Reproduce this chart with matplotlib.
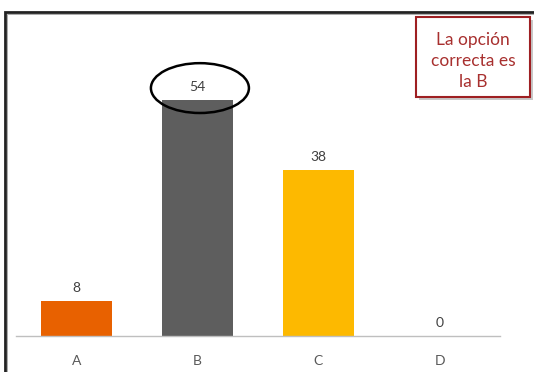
import matplotlib.pyplot as plt
from matplotlib.patches import Ellipse, Rectangle

categories = ["A", "B", "C", "D"]
values = [8, 54, 38, 0]
colors = ["#E86100", "#5E5E5E", "#FDB900", "#FDB900"]
answer_text = "La opción\ncorrecta es\nla B"

plt.rcParams['font.family'] = ['Lato', 'DejaVu Sans']

fig = plt.figure(figsize=(5.34, 3.72), dpi=100)
ax = fig.add_axes([16 / 534, 36 / 372, 484 / 534, 324 / 372])

x = range(len(categories))
ax.bar(x, values, width=0.58, color=colors)
for xi, v in zip(x, values):
    ax.text(xi, v + 1.6, str(v), ha='center', va='bottom', fontsize=10, color='#404040')

ax.set_xlim(-0.5, 3.5)
ax.set_ylim(0, 74.1)
ax.set_xticks(list(x))
ax.set_xticklabels(categories, fontsize=10, color='#595959')
ax.tick_params(axis='x', length=0, pad=14)
ax.set_yticks([])
for s in ['top', 'right', 'left']:
    ax.spines[s].set_visible(False)
ax.spines['bottom'].set_color('#BFBFBF')
ax.spines['bottom'].set_linewidth(1)

# circle around the right answer
ax.add_patch(Ellipse((1.02, 56.7), 0.81, 11.4, fill=False, edgecolor='black', lw=1.8, zorder=5))

# outer frame
fig.patches.append(Rectangle((5 / 534, -0.1), 1.2, (372 - 12) / 372 + 0.1, transform=fig.transFigure,
                             fill=False, edgecolor='#222222', lw=2.0))
fig.patches.append(Rectangle((7 / 534, -0.1), 1.2, (372 - 14) / 372 + 0.1, transform=fig.transFigure,
                             fill=False, edgecolor='#aaaaaa', lw=0.7))

# answer box with shadow
fig.patches.append(Rectangle((419 / 534, 1 - 100 / 372), 114 / 534, 80 / 372, transform=fig.transFigure,
                             facecolor='#c8c8c8', edgecolor='none'))
fig.patches.append(Rectangle((416 / 534, 1 - 97 / 372), 114 / 534, 80 / 372, transform=fig.transFigure,
                             facecolor='white', edgecolor='#9E1F22', lw=1.5))
fig.text(473 / 534, 1 - 61 / 372, answer_text, ha='center', va='center', fontsize=12.5,
         color='#A8302F', linespacing=1.35)

fig.savefig("out.png", dpi=100)
